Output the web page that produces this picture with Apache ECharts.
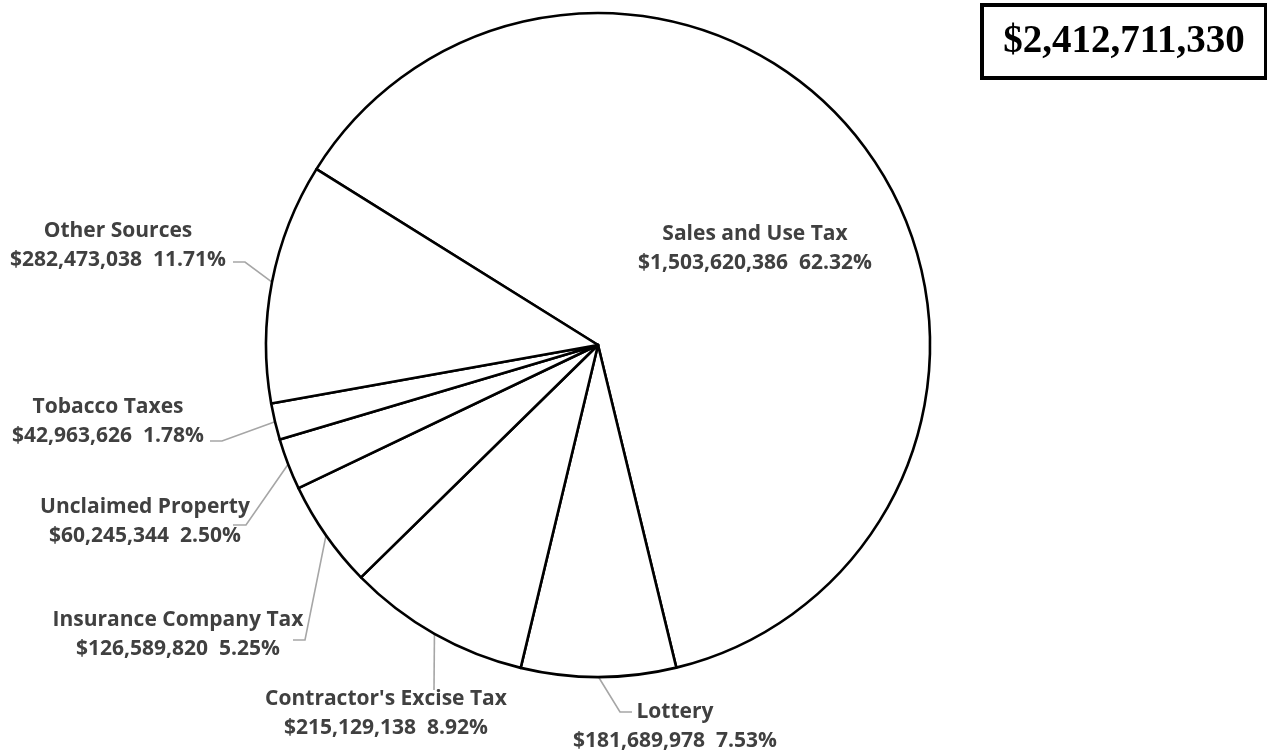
<!DOCTYPE html>
<html>
<head>
<meta charset="utf-8">
<title>Revenue Sources</title>
<script src="https://cdn.jsdelivr.net/npm/echarts@6/dist/echarts.min.js"></script>
<style>
  html, body { margin: 0; padding: 0; background: #ffffff; }
  #chart { width: 1267px; height: 751px; }
</style>
</head>
<body>
<div id="chart"></div>
<script>
// Revenue sources, listed clockwise from the top-left boundary
const categories = [
  'Sales and Use Tax',
  'Lottery',
  "Contractor's Excise Tax",
  'Insurance Company Tax',
  'Unclaimed Property',
  'Tobacco Taxes',
  'Other Sources'
];
const amounts = [
  1503620386,
  181689978,
  215129138,
  126589820,
  60245344,
  42963626,
  282473038
];

const total = amounts.reduce((a, b) => a + b, 0);
const fmtMoney = v => '$' + Math.round(v).toLocaleString('en-US');

// Label anchor (centre of the two-line block) and leader-line elbow per slice
const labelPlacement = [
  { x: 755, y: 249 },                                   // Sales and Use Tax (inside)
  { x: 675, y: 727, elbow: [620, 712], end: [632, 712] },
  { x: 386, y: 714, elbow: [434, 690], end: [434, 690] },
  { x: 178, y: 635, elbow: [305, 640], end: [293, 640] },
  { x: 145, y: 522, elbow: [246, 525], end: [233, 525] },
  { x: 108, y: 422, elbow: [222, 441], end: [210, 441] },
  { x: 118, y: 246, elbow: [245, 262], end: [233, 262] }
];

const pieData = categories.map((name, i) => {
  const item = { name: name, value: amounts[i] };
  if (i === 0) {
    item.label = { position: 'inside' };
    item.labelLine = { show: false };
  }
  return item;
});

const chart = echarts.init(document.getElementById('chart'), null, { renderer: 'canvas' });

chart.setOption({
  backgroundColor: '#ffffff',
  animation: false,
  series: [{
    type: 'pie',
    center: [598, 345],
    radius: [0, 332],
    startAngle: 148,
    clockwise: true,
    avoidLabelOverlap: false,
    minShowLabelAngle: 0,
    itemStyle: { color: '#ffffff', borderColor: '#000000', borderWidth: 2.6 },
    emphasis: { disabled: true },
    label: {
      show: true,
      position: 'outside',
      color: '#404040',
      fontFamily: 'Open Sans',
      fontWeight: 'bold',
      fontSize: 21,
      lineHeight: 29,
      align: 'center',
      formatter: p => p.name + '\n' + fmtMoney(p.value) + '  ' + (p.value / total * 100).toFixed(2) + '%'
    },
    labelLine: {
      show: true,
      lineStyle: { color: '#a6a6a6', width: 1.6 }
    },
    labelLayout: params => {
      const pl = labelPlacement[params.dataIndex];
      const out = { x: pl.x, y: pl.y, align: 'center', verticalAlign: 'middle' };
      if (pl.elbow && params.labelLinePoints) {
        const start = params.labelLinePoints[0];
        out.labelLinePoints = [start.slice ? start.slice() : start, pl.elbow, pl.end];
      }
      return out;
    },
    data: pieData
  }],
  graphic: [{
    type: 'group',
    left: 980,
    top: 3,
    children: [{
      type: 'rect',
      shape: { x: 0, y: 0, width: 284, height: 73 },
      style: { fill: '#ffffff', stroke: '#000000', lineWidth: 4 }
    }, {
      type: 'text',
      x: 142,
      y: 37,
      style: {
        text: fmtMoney(total),
        fontFamily: 'Liberation Serif',
        fontWeight: 'bold',
        fontSize: 39,
        fill: '#000000',
        align: 'center',
        verticalAlign: 'middle'
      }
    }]
  }]
});
</script>
</body>
</html>
